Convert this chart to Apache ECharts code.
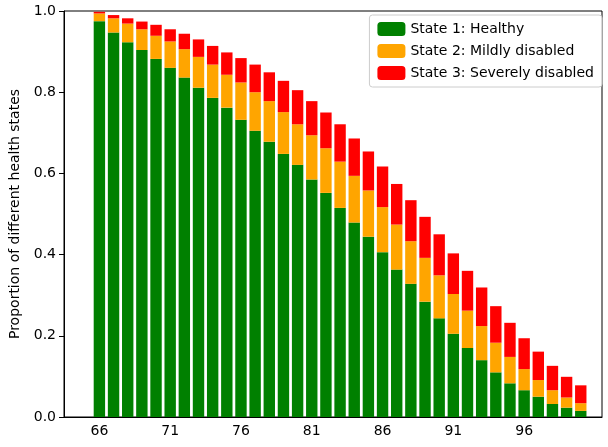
<!DOCTYPE html>
<html><head><meta charset="utf-8">
<script src="https://cdn.jsdelivr.net/npm/echarts@6/dist/echarts.min.js"></script>
<style>html,body{margin:0;background:#fff}#c{width:608px;height:447px}</style>
</head><body><div id="c"></div>
<script>
// ages shown on the axis; 64,65 and 101 are padding slots with no bar
const ages = [];
for (let a = 64; a <= 101; a++) ages.push(String(a));

// proportions, ages 66..100
const healthy = [0.975,0.947,0.923,0.904,0.882,0.860,0.836,0.811,0.786,0.762,0.732,0.705,0.678,0.648,0.621,0.585,0.552,0.515,
  0.479,0.444,0.406,0.363,0.328,0.284,0.243,0.205,0.170,0.140,0.110,0.083,0.066,0.050,0.032,0.023,0.015];
const upToMild = [0.994,0.982,0.969,0.955,0.939,0.925,0.906,0.887,0.868,0.843,0.824,0.800,0.778,0.751,0.721,0.694,0.662,0.629,
  0.594,0.558,0.517,0.474,0.433,0.392,0.349,0.303,0.262,0.224,0.183,0.148,0.118,0.091,0.066,0.048,0.034];
const total = [0.998,0.990,0.982,0.974,0.966,0.955,0.944,0.930,0.914,0.898,0.884,0.868,0.849,0.828,0.805,0.778,0.750,0.721,
  0.686,0.654,0.617,0.574,0.534,0.493,0.450,0.403,0.360,0.319,0.273,0.232,0.194,0.161,0.126,0.099,0.078];

const pad = v => [null, null, ...v, null];
const mild = healthy.map((h, i) => +(upToMild[i] - h).toFixed(3));
const severe = upToMild.map((m, i) => +(total[i] - m).toFixed(3));
const showTick = (i) => (i - 2) % 5 === 0 && i >= 2 && i <= 32;

const chart = echarts.init(document.getElementById('c'));
const font = 'DejaVu Sans';
chart.setOption({
  animation: false,
  textStyle: { fontFamily: font },
  grid: { left: 59, right: 6, top: 11, bottom: 30, show: true, borderColor: '#000', borderWidth: 1 },
  legend: {
    orient: 'vertical', right: 6, top: 15, itemGap: 8, itemWidth: 28, itemHeight: 14,
    padding: [7, 8, 7, 8], borderColor: '#ccc', borderWidth: 1, borderRadius: 3, backgroundColor: 'rgba(255,255,255,0.8)',
    textStyle: { fontSize: 14, color: '#000', fontFamily: font },
    data: ['State 1: Healthy', 'State 2: Mildly disabled', 'State 3: Severely disabled']
  },
  xAxis: {
    type: 'category', data: ages,
    axisLine: { lineStyle: { color: '#000' } },
    axisTick: { alignWithLabel: true, interval: showTick, length: 5, lineStyle: { color: '#000' } },
    axisLabel: { interval: showTick, color: '#000', fontSize: 14, margin: 7 }
  },
  yAxis: {
    type: 'value', min: 0, max: 1, interval: 0.2,
    name: 'Proportion of different health states', nameLocation: 'middle', nameGap: 42,
    nameTextStyle: { fontSize: 14, color: '#000' },
    splitLine: { show: false },
    axisLine: { show: true, lineStyle: { color: '#000' } },
    axisTick: { show: true, length: 5, lineStyle: { color: '#000' } },
    axisLabel: { color: '#000', fontSize: 14, formatter: v => v.toFixed(1) }
  },
  series: [
    { name: 'State 1: Healthy', type: 'bar', stack: 's', data: pad(healthy), barWidth: 11.4, itemStyle: { color: '#008000' } },
    { name: 'State 2: Mildly disabled', type: 'bar', stack: 's', data: pad(mild), itemStyle: { color: '#FFA500' } },
    { name: 'State 3: Severely disabled', type: 'bar', stack: 's', data: pad(severe), itemStyle: { color: '#FF0000' } }
  ]
});
</script></body></html>
